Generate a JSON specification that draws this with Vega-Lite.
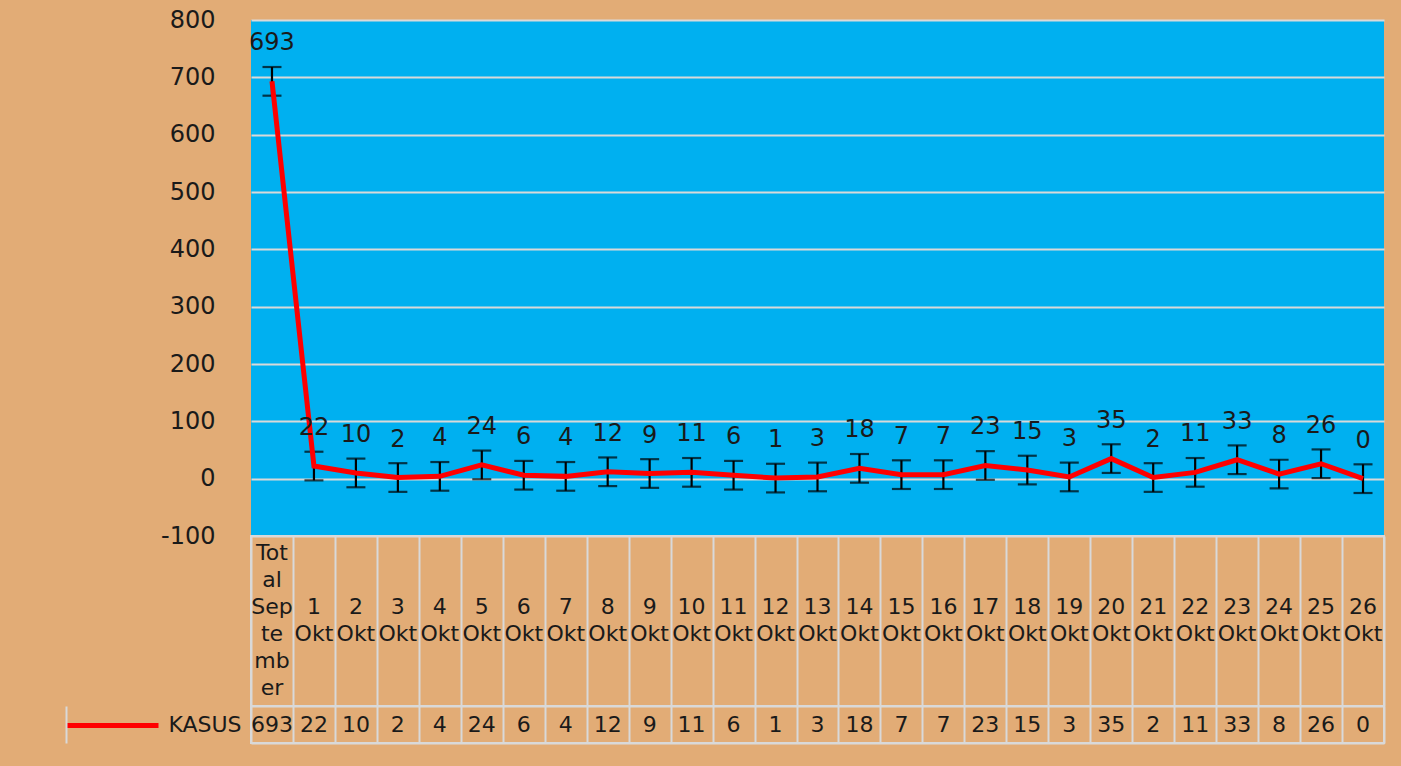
{
  "$schema": "https://vega.github.io/schema/vega-lite/v6.json",
  "autosize": {"type": "pad"},
  "padding": {"left": 62, "top": 8, "right": 18, "bottom": 23},
  "background": "#E2AC76",
  "bounds": "flush",
  "spacing": 0,
  "config": {
    "font": "DejaVu Sans",
    "concat": {"spacing": 0}
  },
  "data": {"values": [
    {"tanggal": "Total September", "panjang": "Tot|al|Sep|te|mb|er", "pendek": "", "kasus": 693, "err": 25, "seri": "KASUS"},
    {"tanggal": "1 Okt", "panjang": "", "pendek": "1|Okt", "kasus": 22, "err": 25, "seri": "KASUS"},
    {"tanggal": "2 Okt", "panjang": "", "pendek": "2|Okt", "kasus": 10, "err": 25, "seri": "KASUS"},
    {"tanggal": "3 Okt", "panjang": "", "pendek": "3|Okt", "kasus": 2, "err": 25, "seri": "KASUS"},
    {"tanggal": "4 Okt", "panjang": "", "pendek": "4|Okt", "kasus": 4, "err": 25, "seri": "KASUS"},
    {"tanggal": "5 Okt", "panjang": "", "pendek": "5|Okt", "kasus": 24, "err": 25, "seri": "KASUS"},
    {"tanggal": "6 Okt", "panjang": "", "pendek": "6|Okt", "kasus": 6, "err": 25, "seri": "KASUS"},
    {"tanggal": "7 Okt", "panjang": "", "pendek": "7|Okt", "kasus": 4, "err": 25, "seri": "KASUS"},
    {"tanggal": "8 Okt", "panjang": "", "pendek": "8|Okt", "kasus": 12, "err": 25, "seri": "KASUS"},
    {"tanggal": "9 Okt", "panjang": "", "pendek": "9|Okt", "kasus": 9, "err": 25, "seri": "KASUS"},
    {"tanggal": "10 Okt", "panjang": "", "pendek": "10|Okt", "kasus": 11, "err": 25, "seri": "KASUS"},
    {"tanggal": "11 Okt", "panjang": "", "pendek": "11|Okt", "kasus": 6, "err": 25, "seri": "KASUS"},
    {"tanggal": "12 Okt", "panjang": "", "pendek": "12|Okt", "kasus": 1, "err": 25, "seri": "KASUS"},
    {"tanggal": "13 Okt", "panjang": "", "pendek": "13|Okt", "kasus": 3, "err": 25, "seri": "KASUS"},
    {"tanggal": "14 Okt", "panjang": "", "pendek": "14|Okt", "kasus": 18, "err": 25, "seri": "KASUS"},
    {"tanggal": "15 Okt", "panjang": "", "pendek": "15|Okt", "kasus": 7, "err": 25, "seri": "KASUS"},
    {"tanggal": "16 Okt", "panjang": "", "pendek": "16|Okt", "kasus": 7, "err": 25, "seri": "KASUS"},
    {"tanggal": "17 Okt", "panjang": "", "pendek": "17|Okt", "kasus": 23, "err": 25, "seri": "KASUS"},
    {"tanggal": "18 Okt", "panjang": "", "pendek": "18|Okt", "kasus": 15, "err": 25, "seri": "KASUS"},
    {"tanggal": "19 Okt", "panjang": "", "pendek": "19|Okt", "kasus": 3, "err": 25, "seri": "KASUS"},
    {"tanggal": "20 Okt", "panjang": "", "pendek": "20|Okt", "kasus": 35, "err": 25, "seri": "KASUS"},
    {"tanggal": "21 Okt", "panjang": "", "pendek": "21|Okt", "kasus": 2, "err": 25, "seri": "KASUS"},
    {"tanggal": "22 Okt", "panjang": "", "pendek": "22|Okt", "kasus": 11, "err": 25, "seri": "KASUS"},
    {"tanggal": "23 Okt", "panjang": "", "pendek": "23|Okt", "kasus": 33, "err": 25, "seri": "KASUS"},
    {"tanggal": "24 Okt", "panjang": "", "pendek": "24|Okt", "kasus": 8, "err": 25, "seri": "KASUS"},
    {"tanggal": "25 Okt", "panjang": "", "pendek": "25|Okt", "kasus": 26, "err": 25, "seri": "KASUS"},
    {"tanggal": "26 Okt", "panjang": "", "pendek": "26|Okt", "kasus": 0, "err": 25, "seri": "KASUS"}
  ]},
  "vconcat": [
    {
      "width": 1133,
      "height": 516,
      "view": {"fill": "#00B0F0", "stroke": null},
      "encoding": {
        "x": {"field": "tanggal", "type": "nominal", "sort": null,
              "scale": {"type": "band", "paddingInner": 0, "paddingOuter": 0},
              "axis": null},
        "y": {"field": "kasus", "type": "quantitative",
              "scale": {"domain": [-100, 800], "nice": false, "zero": false},
              "axis": {"title": null, "values": [-100, 0, 100, 200, 300, 400, 500, 600, 700, 800],
                       "labelExpr": "'' + datum.value", "labelFontSize": 24, "labelColor": "#1a1a1a",
                       "labelPadding": 36, "ticks": false, "domain": false,
                       "gridColor": "#D9D9D9", "gridWidth": 2, "gridOpacity": 1}}
      },
      "layer": [
        {
          "mark": {"type": "errorbar", "ticks": {"size": 19}, "thickness": 2.2, "color": "#000000"},
          "encoding": {
            "yError": {"field": "err"}
          }
        },
        {
          "mark": {"type": "line", "strokeWidth": 5, "color": "#FF0000"}
        },
        {
          "mark": {"type": "text", "fontSize": 24, "color": "#1a1a1a", "dy": -38, "baseline": "middle"},
          "encoding": {
            "text": {"field": "kasus", "type": "quantitative"}
          }
        }
      ]
    },
    {
      "width": 1133,
      "height": 170,
      "view": {"stroke": "#D9D9D9", "strokeWidth": 2},
      "encoding": {
        "x": {"field": "tanggal", "type": "nominal", "sort": null,
              "scale": {"type": "band", "paddingInner": 0, "paddingOuter": 0},
              "axis": {"title": null, "labels": false, "ticks": false, "domain": false,
                       "grid": true, "tickBand": "extent", "gridColor": "#D9D9D9", "gridWidth": 2, "gridOpacity": 1}}
      },
      "layer": [
        {
          "mark": {"type": "text", "fontSize": 22, "color": "#1a1a1a", "lineBreak": "|", "lineHeight": 27, "baseline": "middle", "dy": -68},
          "encoding": {"text": {"field": "panjang", "type": "nominal"}}
        },
        {
          "mark": {"type": "text", "fontSize": 22, "color": "#1a1a1a", "lineBreak": "|", "lineHeight": 27, "baseline": "middle", "dy": -14},
          "encoding": {"text": {"field": "pendek", "type": "nominal"}}
        }
      ]
    },
    {
      "width": 1133,
      "height": 37,
      "view": {"stroke": "#D9D9D9", "strokeWidth": 2},
      "encoding": {
        "x": {"field": "tanggal", "type": "nominal", "sort": null,
              "scale": {"type": "band", "paddingInner": 0, "paddingOuter": 0},
              "axis": {"title": null, "labels": false, "ticks": false, "domain": false,
                       "grid": true, "tickBand": "extent", "gridColor": "#D9D9D9", "gridWidth": 2, "gridOpacity": 1}},
        "text": {"field": "kasus", "type": "quantitative"}
      },
      "layer": [
        {
          "mark": {"type": "text", "fontSize": 22, "color": "#1a1a1a", "baseline": "middle"},
          "encoding": {
            "y": {"field": "seri", "type": "nominal",
                  "scale": {"type": "band", "paddingInner": 0, "paddingOuter": 0},
                  "axis": {"title": null, "orient": "left", "labelFontSize": 22, "labelColor": "#1a1a1a",
                           "labelPadding": 10, "ticks": false, "domain": false, "grid": false}}
          }
        },
        {
          "mark": {"type": "text", "opacity": 0},
          "encoding": {
            "y": {"field": "seri", "type": "nominal",
                  "scale": {"type": "band", "paddingInner": 0, "paddingOuter": 0},
                  "axis": {"title": null, "orient": "left", "offset": 185, "labels": false,
                           "ticks": true, "tickColor": "#FF0000", "tickWidth": 5, "tickSize": -92,
                           "tickOffset": 0, "domain": false, "grid": false}}
          }
        },
        {
          "mark": {"type": "text", "opacity": 0},
          "encoding": {
            "y": {"field": "seri", "type": "nominal",
                  "scale": {"type": "band", "paddingInner": 0, "paddingOuter": 0},
                  "axis": {"title": null, "orient": "left", "offset": 185, "labels": false, "ticks": false,
                           "domain": true, "domainColor": "#D9D9D9", "domainWidth": 2,
                           "grid": true, "tickBand": "extent", "gridColor": "#D9D9D9", "gridWidth": 2, "gridOpacity": 1}}
          }
        }
      ],
      "resolve": {"axis": {"y": "independent"}}
    }
  ]
}
